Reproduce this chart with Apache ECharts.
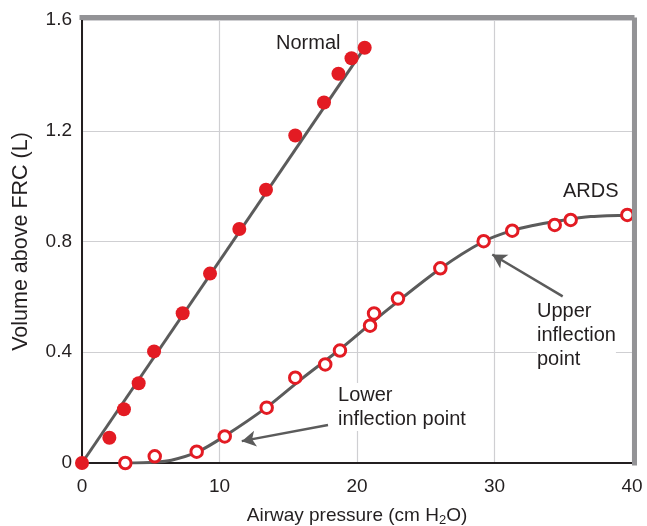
<!DOCTYPE html>
<html>
<head>
<meta charset="utf-8">
<script src="https://cdn.jsdelivr.net/npm/echarts@6/dist/echarts.min.js"></script>
<style>
  html, body { margin: 0; padding: 0; background: #fff; }
  #chart { width: 647px; height: 526px; }
</style>
</head>
<body>
<div id="chart"></div>
<script>
// Normal lung: measured points (filled)
const normalPressure = [0, 1.99, 3.05, 4.12, 5.24, 7.32, 9.31, 11.44, 13.38, 15.51, 17.6, 18.65, 19.6, 20.56];
const normalVolume = [0, 0.091, 0.194, 0.288, 0.403, 0.541, 0.684, 0.845, 0.987, 1.183, 1.302, 1.406, 1.462, 1.5];
// fitted line for normal lung
const normalFitP = [0, 20.56];
const normalFitV = [0, 1.5];

// ARDS: measured points (open)
const ardsPressure = [3.15, 5.29, 8.34, 10.38, 13.43, 15.51, 17.69, 18.76, 20.95, 21.24, 22.98, 26.06, 29.21, 31.29, 34.38, 35.54, 39.66];
const ardsVolume = [0, 0.024, 0.041, 0.096, 0.2, 0.308, 0.356, 0.406, 0.496, 0.54, 0.594, 0.703, 0.801, 0.839, 0.86, 0.878, 0.896];
// fitted curve for ARDS
const ardsFitP = [3.15, 5.3, 6.5, 8.4, 10.4, 13.4, 16, 19, 22, 26, 29.2, 31.3, 32.8, 34.4, 37, 40];
const ardsFitV = [0, 0.003, 0.01, 0.04, 0.098, 0.2, 0.305, 0.42, 0.545, 0.7, 0.8, 0.84, 0.858, 0.872, 0.89, 0.895];

const xTicks = [0, 10, 20, 30, 40];
const yTicks = [0, 0.4, 0.8, 1.2, 1.6];

// text notes: [pressure, volume, text]
const notes = [
    [14.11, 1.514, 'Normal'],
    [34.98, 0.982, 'ARDS'],
    [18.62, 0.202, 'Lower\ninflection point'],
    [33.09, 0.461, 'Upper\ninflection\npoint']
];
// arrows: [from, to]
const arrows = [
    [[17.89, 0.137], [11.62, 0.079]],
    [[34.96, 0.602], [29.84, 0.753]]
];

const zip = (a, b) => a.map((v, i) => [v, b[i]]);
const FONT = "'Liberation Sans', Arial, sans-serif";
const RED = '#e31b23';
const LINE = '#5b5b5b';
const INK = '#231f20';

const myChart = echarts.init(document.getElementById('chart'));

const option = {
    animation: false,
    textStyle: { fontFamily: FONT },
    grid: { left: 82, right: 15, top: 20, bottom: 63, outerBoundsMode: 'none', containLabel: false },
    xAxis: [{
        type: 'value', min: xTicks[0], max: xTicks[xTicks.length - 1], interval: 10,
        axisLine: { lineStyle: { color: INK, width: 2 } },
        axisTick: { show: false },
        axisLabel: { color: INK, fontSize: 19, margin: 14, fontFamily: FONT },
        splitLine: { lineStyle: { color: '#cfcfd2', width: 1.2 } },
        name: 'Airway pressure (cm H{sub|2}O)',
        nameLocation: 'middle', nameGap: 42,
        nameTextStyle: {
            color: INK, fontSize: 19, fontFamily: FONT,
            rich: { sub: { fontSize: 13, padding: [9, 0, 0, 0], verticalAlign: 'bottom', fontFamily: FONT, color: INK } }
        }
    }, {
        // top border
        type: 'value', position: 'top', min: 0, max: 40, offset: 2.5, z: 10,
        axisLine: { onZero: false, lineStyle: { color: '#939396', width: 5, cap: 'square' } },
        axisTick: { show: false }, axisLabel: { show: false }, splitLine: { show: false }
    }],
    yAxis: [{
        type: 'value', min: yTicks[0], max: yTicks[yTicks.length - 1], interval: 0.4,
        axisLine: { show: true, lineStyle: { color: INK, width: 2 } },
        axisTick: { show: false },
        axisLabel: {
            color: INK, fontSize: 19, margin: 10, fontFamily: FONT,
            formatter: v => v === 0 ? '0' : v.toFixed(1)
        },
        splitLine: { lineStyle: { color: '#cfcfd2', width: 1.2 } },
        name: 'Volume above FRC (L)',
        nameLocation: 'middle', nameGap: 50,
        nameTextStyle: { color: INK, fontSize: 21.5, fontFamily: FONT }
    }, {
        // right border
        type: 'value', position: 'right', min: 0, max: 1.6, offset: 2.5, z: 10,
        axisLine: { show: true, onZero: false, lineStyle: { color: '#939396', width: 5, cap: 'square' } },
        axisTick: { show: false }, axisLabel: { show: false }, splitLine: { show: false }
    }],
    series: [
        {
            name: 'Normal fit', type: 'line', data: zip(normalFitP, normalFitV),
            showSymbol: false, lineStyle: { color: LINE, width: 3 }, z: 2
        },
        {
            name: 'ARDS fit', type: 'line', data: zip(ardsFitP, ardsFitV),
            smooth: 0.3, showSymbol: false, lineStyle: { color: LINE, width: 3 }, z: 2,
            markLine: {
                silent: true, symbol: ['none', 'arrow'], symbolSize: [12, 14],
                label: { show: false },
                lineStyle: { color: LINE, width: 2.5, type: 'solid' },
                data: arrows.map(a => [{ coord: a[0] }, { coord: a[1] }])
            }
        },
        {
            name: 'Normal', type: 'scatter', data: zip(normalPressure, normalVolume),
            symbol: 'circle', symbolSize: 14, itemStyle: { color: RED, opacity: 1 }, z: 4
        },
        {
            name: 'ARDS', type: 'scatter', data: zip(ardsPressure, ardsVolume),
            symbol: 'circle', symbolSize: 11.5, clip: false,
            itemStyle: { color: '#fff', borderColor: RED, borderWidth: 3, opacity: 1 }, z: 4
        },
        {
            name: 'notes', type: 'scatter', data: notes, symbolSize: 0, z: 3,
            itemStyle: { opacity: 1 },
            label: {
                show: true, position: 'right', distance: 0,
                formatter: p => p.data[2],
                color: INK, fontSize: 20, lineHeight: 24, fontFamily: FONT,
                backgroundColor: '#fff', align: 'left'
            }
        }
    ]
};

myChart.setOption(option);
</script>
</body>
</html>
